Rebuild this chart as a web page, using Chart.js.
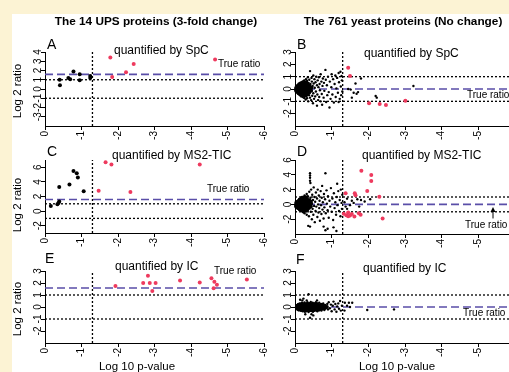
<!DOCTYPE html>
<html><head><meta charset="utf-8">
<script src="https://cdn.jsdelivr.net/npm/chart.js@4.4.0/dist/chart.umd.min.js"></script>
<style>
html,body{margin:0;padding:0;width:509px;height:372px;overflow:hidden;background:#FCF3D4;}
#white{position:absolute;left:12px;top:14px;width:530px;height:370px;background:#fff;}
canvas{position:absolute;left:0;top:0;}
</style></head><body>
<div id="white"></div>
<canvas id="cA" width="530" height="372"></canvas>
<canvas id="cB" width="530" height="372"></canvas>
<canvas id="cC" width="530" height="372"></canvas>
<canvas id="cD" width="530" height="372"></canvas>
<canvas id="cE" width="530" height="372"></canvas>
<canvas id="cF" width="530" height="372"></canvas>
<script>
// ---------- DATA ----------
const xTickValues = [0,1,2,3,4,5,6];
const xTickLabels = ['0','-1','-2','-3','-4','-5','-6'];
const yTicksA = [-3,-2,-1,0,1,2,3,4];
const yTicksB = [-2,-1,0,1,2,3];
const yTicksCD = [-2,0,2,4,6];
const yTicksEF = [-2,-1,0,1,2,3];
const pThreshold = 1.3;
const foldLines = [1,-1];
const trueRatioUps = 1.585;
const trueRatioYeast = 0;
const columnTitles = ['The 14 UPS proteins (3-fold change)','The 761 yeast proteins (No change)'];
const panelLetters = ['A','B','C','D','E','F'];
const methodLabels = ['quantified by SpC','quantified by MS2-TIC','quantified by IC'];
const trueRatioLabel = 'True ratio';
const yAxisTitle = 'Log 2 ratio';
const xAxisTitle = 'Log 10 p-value';
const arrowD = [5.4,-1.9,-0.35];

// Panel A: UPS, SpC
const upsSpcBlack = [[0.41,0.4],[0.40,1.0],[0.64,1.2],[0.69,1.05],[0.78,1.9],[0.95,1.6],[0.95,0.95],[1.24,1.4],[1.24,1.2]];
const upsSpcRed = [[1.79,3.4],[1.84,1.3],[2.22,1.8],[2.43,2.7],[4.66,3.2]];
// Panel C: UPS, MS2-TIC
const upsTicBlack = [[0.16,0.7],[0.34,0.95],[0.37,1.1],[0.39,1.3],[0.39,3.3],[0.67,3.66],[0.78,5.5],[0.87,5.2],[0.9,4.6],[1.06,2.73]];
const upsTicRed = [[1.47,2.78],[1.66,6.7],[1.82,6.4],[2.34,2.6],[4.24,6.4]];
// Panel E: UPS, IC
const upsIcBlack = [];
const upsIcRed = [[1.93,1.76],[2.69,1.99],[2.82,2.6],[2.87,1.99],[2.94,1.34],[3.03,1.99],[3.70,2.2],[4.24,2.04],[4.56,2.4],[4.64,2.1],[4.71,1.85],[4.62,1.57],[5.53,2.3]];

// Panel B: yeast, SpC (dense core + scattered points)
const yeastSpcCore = [
[0.03,-0.15],[0.03,0],[0.04,0.15],[0.08,-0.25],[0.08,-0.08],[0.09,0.08],[0.08,0.25],
[0.13,-0.35],[0.14,-0.18],[0.13,0],[0.14,0.18],[0.13,0.35],
[0.18,-0.42],[0.19,-0.22],[0.18,-0.05],[0.19,0.1],[0.18,0.28],[0.19,0.44],
[0.23,-0.48],[0.24,-0.27],[0.23,-0.08],[0.24,0.1],[0.23,0.28],[0.24,0.47],
[0.28,-0.52],[0.29,-0.3],[0.28,-0.1],[0.29,0.1],[0.28,0.3],[0.29,0.52],
[0.33,-0.42],[0.34,-0.2],[0.33,0],[0.34,0.2],[0.33,0.42],
[0.38,-0.3],[0.39,-0.1],[0.38,0.1],[0.39,0.3],[0.44,-0.15],[0.45,0.1]];
const yeastSpcBlack = [
[0.02,0.02],[0.02,-0.05],[0.03,0.1],[0.03,-0.12],[0.04,0.2],[0.04,-0.2],[0.05,0.05],[0.05,-0.02],[0.06,0.28],[0.06,-0.3],[0.07,0.15],[0.07,-0.15],[0.08,0.35],[0.08,-0.38],[0.09,0.0],[0.09,0.22],[0.1,-0.25],[0.1,0.42],[0.11,-0.45],[0.11,0.1],[0.12,-0.08],[0.12,0.3],[0.13,-0.35],[0.13,0.5],[0.14,-0.52],[0.14,0.18],[0.15,-0.18],[0.15,0.38],[0.16,0.02],[0.16,-0.42],[0.17,0.55],[0.17,-0.6],[0.18,0.25],[0.18,-0.28],[0.19,0.45],[0.19,-0.1],[0.2,0.1],[0.2,-0.5],[0.21,0.62],[0.21,-0.65],[0.22,0.3],[0.22,-0.3],[0.23,-0.02],[0.23,0.48],[0.24,-0.45],[0.24,0.18],[0.25,0.7],[0.25,-0.72],[0.26,0.35],[0.26,-0.2],[0.27,0.05],[0.27,-0.55],[0.28,0.55],[0.28,-0.35],[0.29,0.25],[0.29,-0.85],[0.3,0.8],[0.3,-0.1],[0.31,0.42],[0.31,-0.6],[0.32,0.12],[0.32,-0.4],[0.33,0.65],[0.33,-0.75],[0.34,0.3],[0.34,-0.25],[0.35,0.95],[0.35,-0.05],
[0.36,-1.0],[0.37,0.5],[0.38,-0.5],[0.38,0.2],[0.39,0.75],[0.4,-0.3],[0.41,1.45],[0.41,-0.7],[0.42,0.4],[0.43,0.05],[0.44,-0.9],[0.45,0.9],[0.45,-0.15],[0.46,0.6],[0.47,-0.55],[0.48,0.25],[0.49,-1.15],[0.5,1.1],[0.5,-0.35],[0.51,0.45],[0.52,-0.8],[0.53,0.8],[0.54,0.1],[0.55,-0.6],[0.56,0.55],[0.57,-0.2],[0.58,1.0],[0.6,-1.35],[0.6,0.3],[0.61,-0.45],[0.62,0.7],[0.63,-0.9],[0.64,0.15],[0.65,0.95],[0.66,-0.65],[0.67,0.4],[0.68,-0.1],[0.7,1.2],[0.7,-1.0],[0.72,0.6],[0.73,-0.4],[0.74,-1.28],[0.75,0.25],[0.76,0.85],[0.78,-0.7],[0.79,0.5],[0.8,-0.15],
[0.83,1.55],[0.84,0.75],[0.85,-1.05],[0.87,0.3],[0.88,-0.5],[0.9,1.0],[0.92,-0.25],[0.94,-1.5],[0.95,0.6],[0.97,-0.8],[0.99,0.15],[1.0,1.2],[1.02,-0.45],[1.04,0.8],[1.06,-1.1],[1.08,0.4],[1.1,1.1],[1.11,-0.65],[1.13,0.05],[1.15,0.9],[1.17,-0.3],[1.19,-1.05],[1.19,1.3],[1.2,0.55],[1.22,-0.8],[1.24,1.4],[1.25,0.2],[1.26,-0.5],[1.27,1.05],[1.28,0.7],[1.29,-0.2],
[1.45,0.0],[1.52,-0.05],[1.6,-0.3],[1.65,0.45],[1.68,-0.38],[1.72,-0.25],[1.8,0.85],[1.55,-0.7],[2.2,-0.57],[2.23,-0.7],[3.23,0.24]];
const yeastSpcRed = [[1.45,1.73],[1.5,1.05],[2.02,-1.16],[2.31,-1.22],[2.48,-1.3],[3.01,-0.95]];

// Panel D: yeast, MS2-TIC
const yeastTicCore = [
[0.03,-0.3],[0.03,0],[0.04,0.3],[0.08,-0.5],[0.09,-0.2],[0.08,0.1],[0.09,0.4],
[0.13,-0.7],[0.14,-0.35],[0.13,0],[0.14,0.35],[0.13,0.65],
[0.18,-0.8],[0.19,-0.45],[0.18,-0.1],[0.19,0.25],[0.18,0.6],[0.19,0.9],
[0.23,-0.85],[0.24,-0.5],[0.23,-0.15],[0.24,0.2],[0.23,0.55],[0.24,0.9],
[0.28,-0.8],[0.29,-0.45],[0.28,-0.1],[0.29,0.25],[0.28,0.6],[0.29,0.95],
[0.33,-0.7],[0.34,-0.35],[0.33,0],[0.34,0.35],[0.33,0.7],
[0.38,-0.5],[0.39,-0.15],[0.38,0.2],[0.39,0.55],[0.43,-0.3],[0.44,0.1],[0.43,0.4]];
const yeastTicBlack = [
[0.02,0.05],[0.02,-0.1],[0.03,0.25],[0.03,-0.3],[0.04,0.1],[0.05,-0.15],[0.05,0.4],[0.06,-0.45],[0.07,0.0],[0.07,0.3],[0.08,-0.3],[0.08,0.55],[0.09,-0.6],[0.1,0.15],[0.1,-0.05],[0.11,0.45],[0.11,-0.4],[0.12,0.7],[0.13,-0.7],[0.13,0.2],[0.14,-0.2],[0.15,0.6],[0.15,-0.55],[0.16,0.0],[0.17,0.85],[0.17,-0.9],[0.18,0.35],[0.18,-0.35],[0.19,0.1],[0.2,-0.75],[0.2,0.65],[0.21,1.0],[0.21,-0.1],[0.22,-1.05],[0.22,0.45],[0.23,0.2],[0.24,-0.5],[0.24,0.8],[0.25,-0.25],[0.26,1.2],[0.26,-1.2],[0.27,0.05],[0.28,0.55],[0.28,-0.65],[0.29,0.95],[0.3,-0.95],[0.3,0.3],[0.31,-0.3],[0.32,1.4],[0.32,-1.4],[0.33,0.7],[0.34,-0.05],[0.34,-0.8],[0.35,1.1],
[0.41,4.2],[0.41,3.9],[0.41,3.6],[0.41,3.2],[0.42,2.9],[0.41,-3.0],[0.36,-2.9],[0.83,4.2],[1.15,2.8],[0.78,-3.0],[0.83,-3.5],[1.05,-3.1],[0.89,-3.3],[1.13,-3.6],
[0.37,0.4],[0.38,-1.6],[0.39,1.7],[0.4,-0.4],[0.42,0.9],[0.43,-1.0],[0.44,2.0],[0.45,0.15],[0.46,-2.0],[0.47,1.3],[0.48,-0.6],[0.49,0.6],[0.5,-1.4],[0.51,2.3],[0.52,-0.2],[0.53,1.0],[0.54,-2.4],[0.55,0.35],[0.56,-0.9],[0.57,1.6],[0.58,-0.3],[0.6,0.8],[0.61,-1.7],[0.62,2.0],[0.63,0.0],[0.64,-1.1],[0.65,1.2],[0.66,-0.5],[0.67,0.5],[0.68,-2.2],[0.7,1.8],[0.71,-0.1],[0.72,-1.3],[0.73,0.9],[0.74,2.5],[0.75,-0.7],[0.76,0.3],[0.78,-1.9],[0.79,1.4],[0.8,-0.4],
[0.82,0.7],[0.84,-1.2],[0.86,1.9],[0.87,0.1],[0.89,-0.8],[0.9,1.1],[0.92,-1.8],[0.94,0.5],[0.96,-0.3],[0.98,2.2],[1.0,-1.0],[1.02,0.8],[1.04,-2.1],[1.06,1.5],[1.08,-0.5],[1.1,0.3],[1.12,-1.4],[1.14,1.0],[1.16,-0.1],[1.18,1.8],[1.2,-0.9],[1.22,0.6],[1.24,-1.6],[1.25,2.0],[1.27,0.2],[1.28,-0.6],[1.29,1.3],
[1.42,0.78],[1.5,-0.1],[1.6,0.2],[1.42,-0.6],[1.7,0.7],[1.8,0.6],[1.9,0.4],[2.05,0.7],[1.55,0.5],[1.35,0.3],[1.75,-0.3],[1.38,-0.3]];
const yeastTicRed = [[1.81,4.55],[2.08,3.97],[2.08,3.16],[1.97,1.8],[2.3,1.04],[2.39,-1.9],[1.38,1.5],[1.63,1.5],[1.65,1.23],[1.33,-1.25],[1.4,-1.45],[1.45,-1.6],[1.5,-1.5],[1.55,-1.3],[1.74,-1.2],[1.79,-1.4],[1.45,-1.1],[1.62,-1.65]];

// Panel F: yeast, IC
const yeastIcCore = [
[0.06,-0.05],[0.06,0.1],[0.1,-0.2],[0.11,0.0],[0.1,0.18],
[0.17,-0.25],[0.17,-0.08],[0.18,0.08],[0.17,0.22],[0.24,-0.28],[0.24,-0.1],[0.25,0.06],[0.24,0.22],
[0.31,-0.3],[0.31,-0.12],[0.32,0.05],[0.31,0.22],[0.38,-0.28],[0.38,-0.1],[0.39,0.06],[0.38,0.22],
[0.45,-0.28],[0.45,-0.1],[0.46,0.06],[0.45,0.22],[0.52,-0.26],[0.52,-0.08],[0.53,0.08],[0.52,0.22],
[0.59,-0.22],[0.59,-0.05],[0.6,0.1],[0.59,0.24],[0.66,-0.2],[0.66,-0.03],[0.67,0.12],
[0.73,-0.15],[0.73,0.02],[0.74,0.16],[0.8,-0.1],[0.81,0.06],[0.87,0.0]];
const yeastIcBlack = [
[0.03,0.02],[0.04,-0.1],[0.05,0.12],[0.06,-0.2],[0.07,0.05],[0.08,0.22],[0.09,-0.05],[0.1,-0.25],[0.11,0.15],[0.12,-0.12],[0.13,0.3],[0.14,0.0],[0.15,-0.3],[0.16,0.2],[0.17,-0.18],[0.18,0.08],[0.19,0.35],[0.2,-0.08],[0.21,-0.35],[0.22,0.25],[0.23,0.0],[0.24,-0.22],[0.25,0.15],[0.26,0.38],[0.27,-0.4],[0.28,0.05],[0.29,-0.12],[0.3,0.28],[0.31,-0.3],[0.32,0.12],[0.33,-0.02],[0.34,0.4],[0.35,-0.2],[0.36,0.2],[0.37,-0.42],[0.38,0.05],[0.39,0.32],[0.4,-0.15],[0.41,0.15],[0.42,-0.32],[0.43,0.42],[0.44,0.0],[0.45,-0.25],[0.46,0.25],[0.47,-0.08],[0.48,0.35],[0.49,-0.4],[0.5,0.1],[0.51,-0.15],[0.52,0.3],[0.53,-0.3],[0.54,0.02],[0.55,0.2],[0.56,-0.22],[0.57,0.4],[0.58,-0.05],[0.6,0.15],[0.61,-0.35],[0.62,0.28],[0.63,-0.12],[0.64,0.05],[0.66,0.35],[0.67,-0.25],[0.68,0.1],[0.7,-0.05],[0.71,0.25],[0.72,-0.3],[0.74,0.15],[0.75,-0.15],[0.77,0.3],[0.78,0.0],[0.8,-0.25],[0.82,0.18],[0.84,-0.1],[0.86,0.05],[0.88,0.25],[0.9,-0.2],
[0.14,0.6],[0.23,0.7],[0.32,0.55],[0.37,1.06],[0.41,-0.9],[0.5,-0.7],[0.2,0.55],[0.6,0.55],[0.45,-0.6],[0.28,-0.6],
[0.92,0.4],[0.95,-0.1],[0.98,0.2],[1.0,-0.35],[1.03,0.1],[1.05,0.45],[1.08,-0.2],[1.1,0.25],[1.13,-0.4],[1.15,0.05],[1.18,0.3],[1.2,-0.15],[1.23,0.5],[1.25,-0.3],[1.28,0.1],[1.36,0.35],[1.47,0.35],[1.56,0.35],[1.42,0.1],[1.5,0.0],[1.35,-0.3],[1.97,-0.25],[2.7,-0.2]];
const yeastIcRed = [];

// ---------- RENDERING ----------
const FONT = '"Liberation Sans", Arial, Helvetica, sans-serif';
const RED = '#ee3a5e';
const BLUE = '#5a4ea8';
const W = 530, H = 372;

const panels = [
  {id:'cA', l:45, t:52, r:264, b:126, yMin:-4, yMax:4, yTicks:yTicksA, core:[], black:upsSpcBlack, red:upsSpcRed, bR:2, rR:2, tr:trueRatioUps,
   letter:[panelLetters[0],47,48.5], method:[methodLabels[0],114,54], trl:[218,67], yTitle:91, colTitle:[columnTitles[0],156,24.5]},
  {id:'cB', l:295, t:52, r:515, b:126, yMin:-3, yMax:3, yTicks:yTicksB, core:yeastSpcCore, black:yeastSpcBlack, red:yeastSpcRed, bR:1.2, rR:2, tr:trueRatioYeast,
   letter:[panelLetters[1],297,48.5], method:[methodLabels[0],364,57], trl:[467,97.5], colTitle:[columnTitles[1],403,24.5]},
  {id:'cC', l:45, t:160, r:264, b:233, yMin:-3, yMax:7, yTicks:yTicksCD, core:[], black:upsTicBlack, red:upsTicRed, bR:2, rR:2, tr:trueRatioUps,
   letter:[panelLetters[2],47,156], method:[methodLabels[1],112,159], trl:[207,192], yTitle:205},
  {id:'cD', l:295, t:160, r:515, b:234, yMin:-4, yMax:6, yTicks:yTicksCD, core:yeastTicCore, black:yeastTicBlack, red:yeastTicRed, bR:1.2, rR:2, tr:trueRatioYeast,
   letter:[panelLetters[3],297,156], method:[methodLabels[1],362,159], trl:[465,227.5], arrow:arrowD},
  {id:'cE', l:45, t:271, r:264, b:343, yMin:-3, yMax:3, yTicks:yTicksEF, core:[], black:upsIcBlack, red:upsIcRed, bR:2, rR:2, tr:trueRatioUps,
   letter:[panelLetters[4],45,263], method:[methodLabels[2],115,270], trl:[214,274], yTitle:309, xTitle:[xAxisTitle,137,369.5]},
  {id:'cF', l:295, t:271, r:515, b:343, yMin:-3, yMax:3, yTicks:yTicksEF, core:yeastIcCore, black:yeastIcBlack, red:yeastIcRed, bR:1.2, rR:2, tr:trueRatioYeast,
   letter:[panelLetters[5],296,263.5], method:[methodLabels[2],363,272], trl:[463,316], xTitle:[xAxisTitle,397,369.5]}
];

function drawTexts(chart, p) {
  const ctx = chart.ctx, xs = chart.scales.x, ys = chart.scales.y, ca = chart.chartArea;
  ctx.save();
  ctx.fillStyle = '#000';
  ctx.font = '10px ' + FONT;
  p.yTicks.forEach(v => {
    const y = ys.getPixelForValue(v);
    ctx.save(); ctx.translate(ca.left - 4.5, y); ctx.rotate(-Math.PI/2);
    ctx.textAlign = 'center'; ctx.textBaseline = 'alphabetic';
    ctx.fillText(String(v), 0, 0); ctx.restore();
  });
  xTickValues.forEach((v, i) => {
    const x = xs.getPixelForValue(v);
    ctx.save(); ctx.translate(x, ca.bottom + 5); ctx.rotate(-Math.PI/2);
    ctx.textAlign = 'right'; ctx.textBaseline = 'middle';
    ctx.fillText(xTickLabels[i], 0, 0); ctx.restore();
  });
  ctx.textAlign = 'left'; ctx.textBaseline = 'alphabetic';
  ctx.font = '14px ' + FONT;
  ctx.fillText(p.letter[0], p.letter[1], p.letter[2]);
  ctx.font = '12px ' + FONT;
  ctx.fillText(p.method[0], p.method[1], p.method[2]);
  ctx.font = '10px ' + FONT;
  ctx.fillText(trueRatioLabel, p.trl[0], p.trl[1]);
  if (p.colTitle) {
    ctx.font = 'bold 11.8px ' + FONT; ctx.textAlign = 'center';
    ctx.fillText(p.colTitle[0], p.colTitle[1], p.colTitle[2]);
  }
  if (p.yTitle) {
    ctx.font = '11.5px ' + FONT;
    ctx.save(); ctx.translate(20.5, p.yTitle); ctx.rotate(-Math.PI/2);
    ctx.textAlign = 'center'; ctx.fillText(yAxisTitle, 0, 0); ctx.restore();
  }
  if (p.xTitle) {
    ctx.font = '11.5px ' + FONT; ctx.textAlign = 'center';
    ctx.fillText(p.xTitle[0], p.xTitle[1], p.xTitle[2]);
  }
  if (p.arrow) {
    const ax = xs.getPixelForValue(p.arrow[0]);
    const y1 = ys.getPixelForValue(p.arrow[1]), y2 = ys.getPixelForValue(p.arrow[2]);
    ctx.strokeStyle = '#000'; ctx.lineWidth = 1;
    ctx.beginPath(); ctx.moveTo(ax, y1); ctx.lineTo(ax, y2 + 2); ctx.stroke();
    ctx.beginPath(); ctx.moveTo(ax, y2); ctx.lineTo(ax - 2.5, y2 + 5); ctx.lineTo(ax + 2.5, y2 + 5); ctx.closePath(); ctx.fill();
  }
  ctx.restore();
}

function pts(a) { return a.map(([x, y]) => ({x, y})); }

panels.forEach(p => {
  const datasets = [
    {data: pts(p.red), pointRadius: p.rR, pointBackgroundColor: RED, pointBorderWidth: 0, showLine: false, order: 0, clip: false},
    {data: pts(p.black), pointRadius: p.bR, pointBackgroundColor: '#000', pointBorderWidth: 0, showLine: false, order: 1, clip: false},
    {data: pts(p.core), pointRadius: 2, pointBackgroundColor: '#000', pointBorderWidth: 0, showLine: false, order: 1, clip: false},
    {data: [{x: 0, y: p.tr}, {x: 6, y: p.tr}], showLine: true, pointRadius: 0, borderColor: BLUE, borderWidth: 1.6, borderDash: [8, 4], order: 2},
    {data: [{x: pThreshold, y: p.yMin}, {x: pThreshold, y: p.yMax}], showLine: true, pointRadius: 0, borderColor: '#000', borderWidth: 1.3, borderDash: [2, 2], order: 3}
  ];
  foldLines.forEach(v => datasets.push({data: [{x: 0, y: v}, {x: 6, y: v}], showLine: true, pointRadius: 0, borderColor: '#000', borderWidth: 1.3, borderDash: [2, 2], order: 3}));
  new Chart(document.getElementById(p.id), {
    type: 'scatter',
    data: {datasets},
    options: {
      responsive: false, animation: false, devicePixelRatio: 1, events: [],
      layout: {autoPadding: false, padding: {left: p.l - 5, top: p.t, right: W - p.r, bottom: H - p.b - 5}},
      plugins: {legend: {display: false}, tooltip: {enabled: false}},
      scales: {
        x: {type: 'linear', min: 0, max: 6,
            afterBuildTicks: s => { s.ticks = xTickValues.map(v => ({value: v})); },
            afterFit: s => { s.height = 5; },
            ticks: {display: false},
            grid: {display: true, drawOnChartArea: false, drawTicks: true, tickLength: 4, color: '#000', lineWidth: 1},
            border: {display: true, color: '#000', width: 1}},
        y: {type: 'linear', min: p.yMin, max: p.yMax,
            afterBuildTicks: s => { s.ticks = p.yTicks.map(v => ({value: v})); },
            afterFit: s => { s.width = 5; },
            ticks: {display: false},
            grid: {display: true, drawOnChartArea: false, drawTicks: true, tickLength: 4, color: '#000', lineWidth: 1},
            border: {display: true, color: '#000', width: 1}}
      }
    },
    plugins: [{id: 'panelText', afterDraw: c => drawTexts(c, p)}]
  });
});
</script>
</body></html>
